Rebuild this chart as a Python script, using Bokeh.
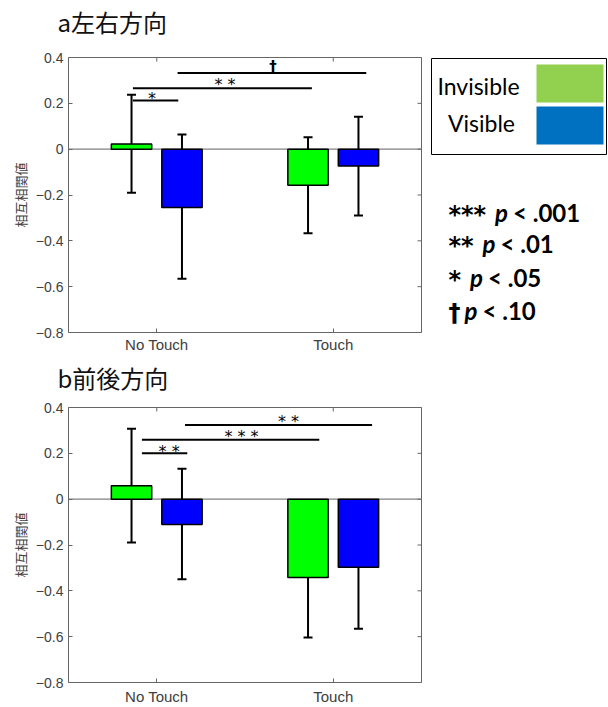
from bokeh.plotting import figure
from bokeh.models import ColumnDataSource, Whisker, TeeHead, Span, FixedTicker, Range1d
from bokeh.layouts import row, column
from bokeh.core.properties import value
from bokeh.embed import file_html
from bokeh.resources import INLINE
import math

# ---------------- data ----------------
categories = ["No Touch", "Touch"]
conditions = ["Invisible", "Visible"]

a_title = "a左右方向"
a_invisible = [0.023, -0.157]
a_visible = [-0.254, -0.073]
a_invisible_upper = [0.238, 0.052]
a_invisible_lower = [-0.190, -0.367]
a_visible_upper = [0.064, 0.141]
a_visible_lower = [-0.565, -0.289]

b_title = "b前後方向"
b_invisible = [0.059, -0.342]
b_visible = [-0.110, -0.297]
b_invisible_upper = [0.307, -0.081]
b_invisible_lower = [-0.189, -0.604]
b_visible_upper = [0.133, -0.024]
b_visible_lower = [-0.349, -0.565]

# significance brackets (x in category units: 1 = No Touch, 2 = Touch)
a_sig_x0 = [0.865, 0.865, 1.118]
a_sig_x1 = [1.122, 1.879, 2.187]
a_sig_y = [0.212, 0.266, 0.332]
a_sig_label = ["*", "* *", "†"]
a_sig_label_x = [0.973, 1.387, 1.659]
a_sig_label_y = [0.238, 0.300, 0.358]

b_sig_x0 = [0.916, 0.916, 1.160]
b_sig_x1 = [1.173, 1.921, 2.220]
b_sig_y = [0.200, 0.259, 0.324]
b_sig_label = ["* *", "* * *", "* *"]
b_sig_label_x = [1.070, 1.480, 1.746]
b_sig_label_y = [0.226, 0.292, 0.357]

y_ticks = [-0.8, -0.6, -0.4, -0.2, 0, 0.2, 0.4]
y_tick_labels = ["−0.8", "−0.6", "−0.4", "−0.2", "0", "0.2", "0.4"]
y_axis_label = "相互相関値"

sig_symbols = ["***", "**", "*", "†"]
sig_thresholds = ["< .001", "< .01", "< .05", "< .10"]

# ---------------- styles ----------------
BAR_COLORS = ["#00FF00", "#0000FF"]
LEGEND_COLORS = ["#92D050", "#0070C0"]
OFFSETS = [-0.1429, 0.1429]
BAR_W = 0.2286
FRAME_COL = "#666666"
TICK_TXT = "#404040"
CJK = "Noto Sans CJK JP"
X_LO, X_HI = 0.5, 2.5
Y_LO, Y_HI = -0.8, 0.4


def make_title(text, height, text_y):
    t = figure(width=608, height=height, x_range=Range1d(0, 608),
               y_range=Range1d(height, 0), x_axis_type=None, y_axis_type=None,
               toolbar_location=None, output_backend="svg",
               min_border_left=0, min_border_right=0,
               min_border_top=0, min_border_bottom=0)
    t.outline_line_color = None
    t.background_fill_color = "white"
    t.border_fill_color = "white"
    t.text(x=[57], y=[text_y], text=[text], text_font=value(CJK),
           text_font_size="24px", text_align="left", text_baseline="middle",
           text_color="#111111")
    return t


def make_panel(inv, vis, inv_up, inv_lo, vis_up, vis_lo,
               sx0, sx1, sy, slab, slx, sly, height, b_top, b_bottom, xlab_standoff):
    cat_pos = [i + 1 for i in range(len(categories))]
    p = figure(width=429, height=height, x_range=Range1d(X_LO, X_HI),
               y_range=Range1d(Y_LO, Y_HI), toolbar_location=None,
               output_backend="svg",
               min_border_left=68, min_border_right=8,
               min_border_top=b_top, min_border_bottom=b_bottom)
    p.background_fill_color = "white"
    p.border_fill_color = "white"
    p.outline_line_color = FRAME_COL
    p.outline_line_width = 1
    p.grid.visible = False

    # axes
    p.xaxis.ticker = FixedTicker(ticks=cat_pos)
    p.xaxis.major_label_overrides = {pos: name for pos, name in zip(cat_pos, categories)}
    p.yaxis.ticker = FixedTicker(ticks=y_ticks)
    p.yaxis.major_label_overrides = {t: l for t, l in zip(y_ticks, y_tick_labels)}
    p.yaxis.axis_label = y_axis_label
    p.yaxis.axis_label_text_font = CJK
    p.yaxis.axis_label_text_font_size = "13px"
    p.yaxis.axis_label_text_font_style = "normal"
    p.yaxis.axis_label_text_color = "#404040"
    p.yaxis.axis_label_standoff = 3
    for ax in (p.xaxis[0], p.yaxis[0]):
        ax.axis_line_color = None
        ax.major_tick_in = 4
        ax.major_tick_out = 0
        ax.minor_tick_in = 0
        ax.minor_tick_out = 0
        ax.major_tick_line_color = FRAME_COL
        ax.major_label_text_font = "Liberation Sans"
        ax.major_label_text_color = TICK_TXT
    p.yaxis.major_label_text_font_size = "14px"
    p.xaxis.major_label_text_font_size = "15px"
    p.yaxis.major_label_standoff = 5
    p.xaxis.major_label_standoff = xlab_standoff

    # box ticks on top and right edges (MATLAB "box on")
    p.scatter(x=cat_pos, y=[Y_HI] * len(cat_pos), marker="dash", size=8,
              angle=math.pi / 2, line_color=FRAME_COL, line_width=1)
    p.scatter(x=[X_HI] * len(y_ticks), y=y_ticks, marker="dash", size=8,
              line_color=FRAME_COL, line_width=1)

    # baseline
    p.add_layout(Span(location=0, dimension="width", line_color="#808080",
                      line_width=1.2, level="underlay"))

    series = [(inv, inv_up, inv_lo), (vis, vis_up, vis_lo)]
    for k, (vals, up, lo) in enumerate(series):
        xs = [c + OFFSETS[k] for c in cat_pos]
        src = ColumnDataSource(dict(x=xs, top=vals, upper=up, lower=lo))
        p.vbar(x="x", top="top", bottom=0, width=BAR_W, source=src,
               fill_color=BAR_COLORS[k], line_color="black", line_width=1.5)
        w = Whisker(source=src, base="x", upper="upper", lower="lower",
                    line_color="black", line_width=2,
                    upper_head=TeeHead(size=9, line_color="black", line_width=2),
                    lower_head=TeeHead(size=9, line_color="black", line_width=2))
        p.add_layout(w)

    # significance brackets
    p.segment(x0=sx0, y0=sy, x1=sx1, y1=sy, line_color="black", line_width=2)
    star_idx = [i for i, s in enumerate(slab) if "*" in s]
    dag_idx = [i for i, s in enumerate(slab) if "*" not in s]
    if star_idx:
        p.text(x=[slx[i] for i in star_idx], y=[sly[i] for i in star_idx],
               text=[slab[i] for i in star_idx],
               text_font=value("DejaVu Sans"), text_font_size="16px",
               text_align="center", text_baseline="middle", y_offset=4,
               text_color="black")
    if dag_idx:
        p.text(x=[slx[i] for i in dag_idx], y=[sly[i] for i in dag_idx],
               text=[slab[i] for i in dag_idx],
               text_font=value("DejaVu Sans"), text_font_size="15px",
               text_font_style="bold",
               text_align="center", text_baseline="middle", y_offset=0,
               text_color="black")
    return p


title_a = make_title(a_title, 40, 20.5)
top = make_panel(a_invisible, a_visible, a_invisible_upper, a_invisible_lower,
                 a_visible_upper, a_visible_lower, a_sig_x0, a_sig_x1, a_sig_y,
                 a_sig_label, a_sig_label_x, a_sig_label_y,
                 height=318, b_top=17, b_bottom=26, xlab_standoff=3)
title_b = make_title(b_title, 40, 18.5)
bottom = make_panel(b_invisible, b_visible, b_invisible_upper, b_invisible_lower,
                    b_visible_upper, b_visible_lower, b_sig_x0, b_sig_x1, b_sig_y,
                    b_sig_label, b_sig_label_x, b_sig_label_y,
                    height=309, b_top=9, b_bottom=22, xlab_standoff=5)

# ---------------- legend / key panel (coordinates = page pixels) ----------------
lg = figure(width=179, height=318, x_range=Range1d(0, 179), y_range=Range1d(332, 57),
            x_axis_type=None, y_axis_type=None, toolbar_location=None,
            output_backend="svg", min_border_left=0, min_border_right=0,
            min_border_top=17, min_border_bottom=26)
lg.outline_line_color = None
lg.background_fill_color = "white"
lg.border_fill_color = "white"

lg.quad(left=[2], right=[177], top=[58], bottom=[154], fill_color=None,
        line_color="black", line_width=1)
sw_top = [64, 106]
sw_bottom = [102, 144]
lg.quad(left=[107, 107], right=[174, 174], top=sw_top, bottom=sw_bottom,
        fill_color=LEGEND_COLORS, line_color=None)
lg.text(x=[49, 52], y=[85, 122], text=conditions, text_font=value("Lato"),
        text_font_size="23px", text_align="center", text_baseline="middle",
        text_color="black")

row_y = [212, 243, 277, 310]
sym_x = 19
char_w = {"*": 12.5, "†": 7}
p_x = [sym_x + sum(char_w.get(c, 10) for c in s) + 9 for s in sig_symbols]
thr_x = [px + 18 for px in p_x]
lg.text(x=[sym_x] * len(sig_symbols), y=row_y, text=sig_symbols,
        text_font=value("DejaVu Sans"), text_font_style="bold", text_font_size="24px",
        text_align="left", text_baseline="middle", text_color="black", y_offset=2)
lg.text(x=p_x, y=row_y, text=["p"] * len(sig_symbols),
        text_font=value("Lato"), text_font_style="bold italic", text_font_size="24px",
        text_align="left", text_baseline="middle", text_color="black")
lg.text(x=thr_x, y=row_y, text=sig_thresholds,
        text_font=value("Lato"), text_font_style="bold", text_font_size="24px",
        text_align="left", text_baseline="middle", text_color="black")

layout = column(title_a, row(top, lg), title_b, row(bottom))

with open("out.html", "w") as f:
    f.write(file_html(layout, INLINE))
